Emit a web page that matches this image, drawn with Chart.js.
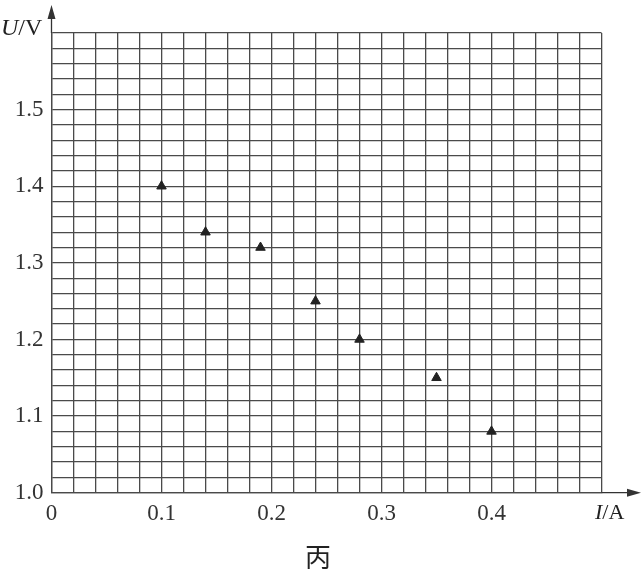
<!DOCTYPE html>
<html>
<head>
<meta charset="utf-8">
<script src="https://cdn.jsdelivr.net/npm/chart.js@4"></script>
<style>
  html, body { margin: 0; padding: 0; background: #fff; }
</style>
</head>
<body>
<canvas id="chart" width="641" height="572"></canvas>
<script>
// Measured points (I in A, U in V)
const currentA = [0.10, 0.14, 0.19, 0.24, 0.28, 0.35, 0.40];
const voltageV = [1.40, 1.34, 1.32, 1.25, 1.20, 1.15, 1.08];

// Labels shown on the major grid lines
const xTickLabels = ['0', '0.1', '0.2', '0.3', '0.4'];
const yTickLabels = ['1.0', '1.1', '1.2', '1.3', '1.4', '1.5'];

const gridColor = '#4a4a4a';
const labelFont = { family: '"Liberation Serif", "DejaVu Serif", serif', size: 23 };

// Axis arrows, axis names and the figure caption
const decorations = {
  id: 'decorations',
  afterDraw(chart) {
    const { ctx, chartArea } = chart;
    const x0 = chartArea.left, y0 = chartArea.bottom;
    ctx.save();
    ctx.strokeStyle = '#333';
    ctx.fillStyle = '#333';
    ctx.lineWidth = 1.3;

    // y axis arrow
    ctx.beginPath();
    ctx.moveTo(x0, chartArea.top);
    ctx.lineTo(x0, 12);
    ctx.stroke();
    ctx.beginPath();
    ctx.moveTo(x0, 5);
    ctx.lineTo(x0 - 4, 19);
    ctx.lineTo(x0 + 4, 19);
    ctx.closePath();
    ctx.fill();

    // x axis arrow
    ctx.beginPath();
    ctx.moveTo(chartArea.right, y0);
    ctx.lineTo(634, y0);
    ctx.stroke();
    ctx.beginPath();
    ctx.moveTo(641, y0);
    ctx.lineTo(627, y0 - 4);
    ctx.lineTo(627, y0 + 4);
    ctx.closePath();
    ctx.fill();

    // axis names
    ctx.fillStyle = '#222';
    ctx.textBaseline = 'alphabetic';
    ctx.textAlign = 'left';
    ctx.font = 'italic 24px "Liberation Serif", serif';
    ctx.fillText('U', 1, 35);
    let w = ctx.measureText('U').width;
    ctx.font = '24px "Liberation Serif", serif';
    ctx.fillText('/V', 1 + w, 35);

    ctx.font = 'italic 22px "Liberation Serif", serif';
    ctx.fillText('I', 595, 519);
    w = ctx.measureText('I').width;
    ctx.font = '22px "Liberation Serif", serif';
    ctx.fillText('/A', 595 + w, 519);

    // caption
    ctx.textAlign = 'center';
    ctx.textBaseline = 'middle';
    ctx.font = '26px "Noto Sans CJK SC", sans-serif';
    ctx.fillText('丙', 318, 557);
    ctx.restore();
  }
};

new Chart(document.getElementById('chart'), {
  type: 'scatter',
  data: {
    datasets: [{
      label: 'U-I',
      data: currentA.map((x, i) => ({ x: x, y: voltageV[i] })),
      pointStyle: 'triangle',
      pointRadius: 5.5,
      pointBorderWidth: 1,
      backgroundColor: '#222',
      borderColor: '#222'
    }]
  },
  options: {
    responsive: false,
    animation: false,
    layout: { padding: { left: 0, top: 33, right: 39.5, bottom: 39.3 } },
    plugins: {
      legend: { display: false },
      tooltip: { enabled: false }
    },
    scales: {
      x: {
        type: 'linear',
        min: 0,
        max: 0.5,
        afterFit(scale) { scale.height = 40; },
        border: { display: true, color: gridColor, width: 1.3 },
        grid: { color: gridColor, lineWidth: 1.3, drawTicks: false },
        ticks: {
          stepSize: 0.02,
          autoSkip: false,
          maxRotation: 0,
          padding: 7,
          color: '#333',
          font: labelFont,
          callback: (value) => {
            const idx = Math.round(value * 100);
            if (idx % 10 !== 0) return '';
            return xTickLabels[idx / 10] || '';
          }
        }
      },
      y: {
        type: 'linear',
        min: 1.0,
        max: 1.6,
        afterFit(scale) { scale.width = 51.5; },
        border: { display: true, color: gridColor, width: 1.3 },
        grid: { color: gridColor, lineWidth: 1.3, drawTicks: false },
        ticks: {
          stepSize: 0.02,
          autoSkip: false,
          padding: 8,
          color: '#333',
          font: labelFont,
          callback: (value) => {
            const idx = Math.round((value - 1) * 100);
            if (idx % 10 !== 0) return '';
            return yTickLabels[idx / 10] || '';
          }
        }
      }
    }
  },
  plugins: [decorations]
});
</script>
</body>
</html>
